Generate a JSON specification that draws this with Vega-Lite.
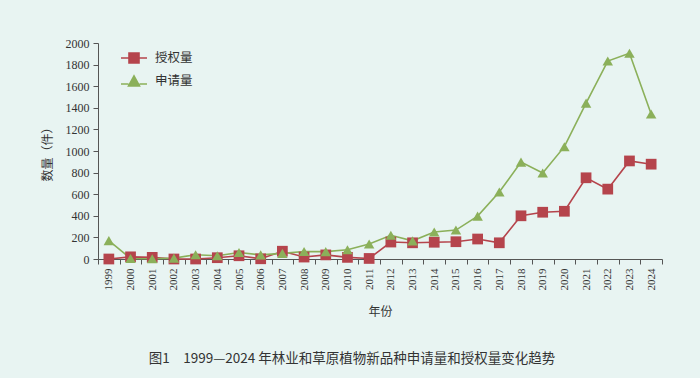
{
  "$schema": "https://vega.github.io/schema/vega-lite/v6.json",
  "width": 564,
  "height": 216,
  "autosize": {"type": "none"},
  "padding": {"left": 98, "top": 43, "right": 38, "bottom": 119},
  "background": "#e8f4f2",
  "config": {"view": {"stroke": null}},
  "title": {
    "text": "图1　1999—2024 年林业和草原植物新品种申请量和授权量变化趋势",
    "orient": "bottom",
    "anchor": "middle",
    "dx": -28,
    "font": "Noto Sans CJK SC",
    "fontSize": 13.5,
    "fontWeight": "normal",
    "color": "#333333",
    "offset": 35
  },
  "data": {
    "values": [
      {"year": "1999", "series": "授权量", "value": 0},
      {"year": "2000", "series": "授权量", "value": 20},
      {"year": "2001", "series": "授权量", "value": 15},
      {"year": "2002", "series": "授权量", "value": 0},
      {"year": "2003", "series": "授权量", "value": 0},
      {"year": "2004", "series": "授权量", "value": 12},
      {"year": "2005", "series": "授权量", "value": 30},
      {"year": "2006", "series": "授权量", "value": 2},
      {"year": "2007", "series": "授权量", "value": 72},
      {"year": "2008", "series": "授权量", "value": 18},
      {"year": "2009", "series": "授权量", "value": 38},
      {"year": "2010", "series": "授权量", "value": 15},
      {"year": "2011", "series": "授权量", "value": 5},
      {"year": "2012", "series": "授权量", "value": 157},
      {"year": "2013", "series": "授权量", "value": 150},
      {"year": "2014", "series": "授权量", "value": 155},
      {"year": "2015", "series": "授权量", "value": 160},
      {"year": "2016", "series": "授权量", "value": 185},
      {"year": "2017", "series": "授权量", "value": 150},
      {"year": "2018", "series": "授权量", "value": 400},
      {"year": "2019", "series": "授权量", "value": 433},
      {"year": "2020", "series": "授权量", "value": 442},
      {"year": "2021", "series": "授权量", "value": 752},
      {"year": "2022", "series": "授权量", "value": 647},
      {"year": "2023", "series": "授权量", "value": 908},
      {"year": "2024", "series": "授权量", "value": 878},
      {"year": "1999", "series": "申请量", "value": 170},
      {"year": "2000", "series": "申请量", "value": 5},
      {"year": "2001", "series": "申请量", "value": 2},
      {"year": "2002", "series": "申请量", "value": 8},
      {"year": "2003", "series": "申请量", "value": 40},
      {"year": "2004", "series": "申请量", "value": 30},
      {"year": "2005", "series": "申请量", "value": 60},
      {"year": "2006", "series": "申请量", "value": 38},
      {"year": "2007", "series": "申请量", "value": 52},
      {"year": "2008", "series": "申请量", "value": 70},
      {"year": "2009", "series": "申请量", "value": 68},
      {"year": "2010", "series": "申请量", "value": 85},
      {"year": "2011", "series": "申请量", "value": 139},
      {"year": "2012", "series": "申请量", "value": 220},
      {"year": "2013", "series": "申请量", "value": 168},
      {"year": "2014", "series": "申请量", "value": 250},
      {"year": "2015", "series": "申请量", "value": 268},
      {"year": "2016", "series": "申请量", "value": 397},
      {"year": "2017", "series": "申请量", "value": 620},
      {"year": "2018", "series": "申请量", "value": 897},
      {"year": "2019", "series": "申请量", "value": 797},
      {"year": "2020", "series": "申请量", "value": 1040},
      {"year": "2021", "series": "申请量", "value": 1443},
      {"year": "2022", "series": "申请量", "value": 1833},
      {"year": "2023", "series": "申请量", "value": 1905},
      {"year": "2024", "series": "申请量", "value": 1343}
    ]
  },
  "encoding": {
    "x": {
      "field": "year",
      "type": "ordinal",
      "scale": {"type": "band", "paddingInner": 0, "paddingOuter": 0},
      "axis": {
        "title": "年份",
        "titleFont": "Noto Sans CJK SC",
        "titleFontSize": 12,
        "titleFontWeight": "normal",
        "titleColor": "#333333",
        "titlePadding": 16,
        "labelFont": "Liberation Serif",
        "labelFontSize": 11,
        "labelColor": "#333333",
        "labelAngle": -90,
        "labelAlign": "right",
        "labelBaseline": "middle",
        "labelPadding": 4,
        "bandPosition": 0,
        "tickBand": "extent",
        "tickSize": 5,
        "domainColor": "#555555",
        "tickColor": "#555555",
        "grid": false
      }
    },
    "y": {
      "field": "value",
      "type": "quantitative",
      "scale": {"domain": [0, 2000], "nice": false},
      "axis": {
        "title": "数量（件）",
        "titleFont": "Noto Sans CJK SC",
        "titleFontSize": 12,
        "titleFontWeight": "normal",
        "titleColor": "#333333",
        "titlePadding": 11,
        "values": [0, 200, 400, 600, 800, 1000, 1200, 1400, 1600, 1800, 2000],
        "format": "d",
        "labelFont": "Liberation Serif",
        "labelFontSize": 12,
        "labelColor": "#333333",
        "labelPadding": 4,
        "tickSize": 5,
        "domainColor": "#555555",
        "tickColor": "#555555",
        "grid": false
      }
    }
  },
  "layer": [
    {
      "mark": {"type": "line", "strokeWidth": 1.6},
      "encoding": {
        "color": {
          "field": "series",
          "type": "nominal",
          "sort": ["授权量", "申请量"],
          "scale": {"domain": ["授权量", "申请量"], "range": ["#b5444c", "#8bb05a"]},
          "legend": {
            "title": null,
            "orient": "none",
            "legendX": 25,
            "legendY": 4,
            "padding": 0,
            "symbolSize": 400,
            "rowPadding": 3,
            "labelOffset": 10,
            "labelFont": "Noto Sans CJK SC",
            "labelFontSize": 12.5,
            "labelColor": "#333333",
            "symbolStrokeWidth": 1.6,
            "encode": {
              "symbols": {
                "update": {
                  "shape": {"signal": "datum.value === '授权量' ? 'M-1.3,0H-0.5M0.5,0H1.3M-0.5,-0.5H0.5V0.5H-0.5Z' : 'M-1.3,0.3H-0.55M0.55,0.3H1.3M0,-0.5L0.55,0.5H-0.55Z'"},
                  "fill": {"signal": "datum.value === '授权量' ? '#b5444c' : '#8bb05a'"},
                  "fillOpacity": {"value": 1},
                  "stroke": {"signal": "datum.value === '授权量' ? '#b5444c' : '#8bb05a'"}
                }
              }
            }
          }
        }
      }
    },
    {
      "transform": [{"filter": "datum.series === '授权量'"}],
      "mark": {"type": "point", "filled": true, "opacity": 1, "size": 115, "shape": "square", "color": "#b5444c"}
    },
    {
      "transform": [{"filter": "datum.series === '申请量'"}],
      "mark": {"type": "point", "filled": true, "opacity": 1, "size": 110, "shape": "triangle-up", "color": "#8bb05a"}
    }
  ]
}
